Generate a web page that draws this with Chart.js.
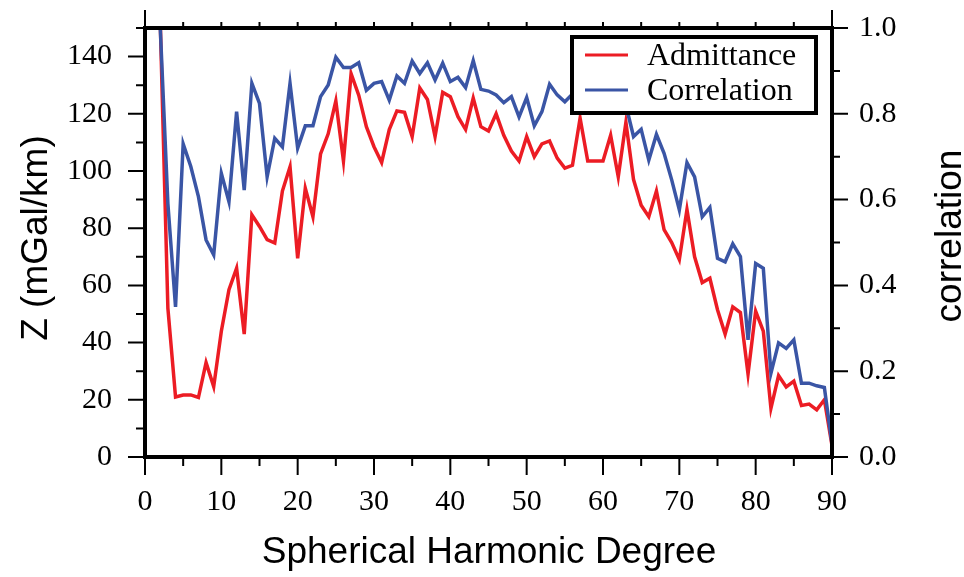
<!DOCTYPE html>
<html>
<head>
<meta charset="utf-8">
<title>Admittance and correlation</title>
<script src="https://cdn.jsdelivr.net/npm/chart.js@4.4.0/dist/chart.umd.min.js"></script>
<style>
  body { margin: 0; background: #fff; }
  #wrap { width: 964px; height: 577px; }
</style>
</head>
<body>
<div id="wrap"><canvas id="spectrumChart" width="964" height="577"></canvas></div>
<script>
// Spherical harmonic degree of each estimate
const degrees = [
  2, 3, 4, 5, 6, 7, 8, 9, 10, 11, 12, 13, 14, 15, 16, 17, 18, 19, 20,
  21, 22, 23, 24, 25, 26, 27, 28, 29, 30, 31, 32, 33, 34, 35, 36, 37, 38, 39, 40,
  41, 42, 43, 44, 45, 46, 47, 48, 49, 50, 51, 52, 53, 54, 55, 56, 57, 58, 59, 60,
  61, 62, 63, 64, 65, 66, 67, 68, 69, 70, 71, 72, 73, 74, 75, 76, 77, 78, 79, 80,
  81, 82, 83, 84, 85, 86, 87, 88, 89, 90
];

// Admittance Z (mGal/km)
const admittance = [
  152, 52, 21, 21.7, 21.7, 20.8, 33, 24.6, 44, 58.5, 66, 43, 84.7, 80.6, 76, 74.8, 93, 101.5, 69.5,
  94, 84, 106, 113, 124.5, 103.5, 134, 126.5, 115.5, 108.5, 103, 114.5, 121, 120.5, 112, 129, 125, 112, 127.5, 126,
  119, 114.5, 125.5, 115.5, 114, 120, 112.5, 107, 103.5, 112, 105, 109.5, 110.5, 104.5, 101, 102, 118.5, 103.5, 103.5, 103.5,
  112.5, 98, 117, 97, 88, 84, 93, 79.5, 75, 69, 86.5, 70, 61, 62.5, 51.5, 43, 52.5, 50.5, 29, 51,
  44, 17, 28.5, 24.5, 26.5, 18, 18.5, 16.5, 20, 4
];

// Correlation coefficient
const correlation = [
  1.0, 0.59, 0.35, 0.73, 0.677, 0.607, 0.506, 0.471, 0.661, 0.595, 0.805, 0.622, 0.871, 0.824, 0.653, 0.743, 0.723, 0.871, 0.72,
  0.772, 0.772, 0.84, 0.867, 0.932, 0.908, 0.908, 0.919, 0.855, 0.871, 0.875, 0.832, 0.888, 0.871, 0.923, 0.894, 0.919, 0.879, 0.918, 0.875,
  0.885, 0.861, 0.924, 0.857, 0.853, 0.844, 0.826, 0.84, 0.793, 0.838, 0.772, 0.805, 0.869, 0.844, 0.828, 0.846, 0.86, 0.87, 0.85, 0.87,
  0.86, 0.88, 0.82, 0.747, 0.764, 0.692, 0.752, 0.708, 0.646, 0.576, 0.686, 0.653, 0.56, 0.582, 0.463, 0.455, 0.497, 0.467, 0.273, 0.451,
  0.44, 0.195, 0.266, 0.253, 0.273, 0.172, 0.172, 0.166, 0.162, 0.03
];

// Labelled ticks
const degreeTicks = [0, 10, 20, 30, 40, 50, 60, 70, 80, 90];
const zTicks = [0, 20, 40, 60, 80, 100, 120, 140];
const corrTicks = [0, 0.2, 0.4, 0.6, 0.8, 1.0];

const RED = "#ec1c24";
const BLUE = "#3a55a5";
const SERIF = "'Liberation Serif', 'Times New Roman', serif";
const SANS = "'Liberation Sans', Arial, sans-serif";

// Frame, tick marks, axis titles and the boxed legend
const frameAndTicks = {
  id: "frameAndTicks",
  afterDraw(chart) {
    const ctx = chart.ctx;
    const a = chart.chartArea;
    const { x, y, y1 } = chart.scales;

    ctx.save();
    ctx.strokeStyle = "#000";
    ctx.lineWidth = 2;
    ctx.beginPath();
    x.ticks.forEach((t) => {
      const px = x.getPixelForValue(t.value);
      const len = degreeTicks.includes(t.value) ? 18 : 9;
      ctx.moveTo(px, a.bottom);
      ctx.lineTo(px, a.bottom + len);
      ctx.moveTo(px, a.top);
      ctx.lineTo(px, a.top - 6);
    });
    y.ticks.forEach((t) => {
      const py = y.getPixelForValue(t.value);
      const len = zTicks.includes(t.value) ? 17 : 9;
      ctx.moveTo(a.left, py);
      ctx.lineTo(a.left - len, py);
    });
    y1.ticks.forEach((t) => {
      const py = y1.getPixelForValue(t.value);
      const len = corrTicks.includes(t.value) ? 16 : 8;
      ctx.moveTo(a.right, py);
      ctx.lineTo(a.right + len, py);
    });
    // axis lines poking out above the frame
    ctx.moveTo(a.left, a.top);
    ctx.lineTo(a.left, a.top - 18);
    ctx.moveTo(a.right, a.top);
    ctx.lineTo(a.right, a.top - 18);
    ctx.stroke();

    // heavy frame
    ctx.lineWidth = 4;
    ctx.strokeRect(a.left, a.top, a.right - a.left, a.bottom - a.top);

    // axis titles
    ctx.fillStyle = "#000";
    ctx.font = "37px " + SANS;
    ctx.textAlign = "center";
    ctx.textBaseline = "alphabetic";
    ctx.fillText("Spherical Harmonic Degree", 489, 563);

    ctx.save();
    ctx.translate(47, 238);
    ctx.rotate(-Math.PI / 2);
    ctx.fillText("Z (mGal/km)", 0, 0);
    ctx.restore();

    ctx.save();
    ctx.translate(961, 236);
    ctx.rotate(-Math.PI / 2);
    ctx.fillText("correlation", 0, 0);
    ctx.restore();

    // legend box
    ctx.fillStyle = "#fff";
    ctx.fillRect(572, 37, 244, 76);
    ctx.lineWidth = 4;
    ctx.strokeRect(572, 37, 244, 76);

    ctx.font = "32px " + SERIF;
    ctx.textAlign = "left";
    ctx.textBaseline = "middle";
    chart.data.datasets.forEach((ds, i) => {
      const ly = 55 + i * 35;
      ctx.strokeStyle = ds.borderColor;
      ctx.lineWidth = 3;
      ctx.beginPath();
      ctx.moveTo(585, ly);
      ctx.lineTo(628, ly);
      ctx.stroke();
      ctx.fillStyle = "#000";
      ctx.fillText(ds.label, 647, ly + 2);
    });
    ctx.restore();
  },
};

// Keep vertical axes from pushing the plot area down
function noEndPadding(s) {
  s.paddingTop = 0;
  s.paddingBottom = 0;
}

function setupChart() {
  const ctx = document.getElementById("spectrumChart").getContext("2d");

  new Chart(ctx, {
    type: "line",
    data: {
      datasets: [
        {
          label: "Admittance",
          data: degrees.map((d, i) => ({ x: d, y: admittance[i] })),
          yAxisID: "y",
          borderColor: RED,
          borderWidth: 3.5,
          pointRadius: 0,
          tension: 0,
          order: 1,
        },
        {
          label: "Correlation",
          data: degrees.map((d, i) => ({ x: d, y: correlation[i] })),
          yAxisID: "y1",
          borderColor: BLUE,
          borderWidth: 3.5,
          pointRadius: 0,
          tension: 0,
          order: 0,
        },
      ],
    },
    options: {
      responsive: false,
      animation: false,
      layout: { padding: { top: 28 } },
      plugins: {
        legend: { display: false },
        tooltip: { enabled: false },
      },
      scales: {
        x: {
          type: "linear",
          min: 0,
          max: 90,
          grid: { display: false, drawTicks: false },
          border: { display: false },
          ticks: {
            stepSize: 5,
            autoSkip: false,
            maxRotation: 0,
            padding: 27,
            color: "#000",
            font: { family: SERIF, size: 30 },
            callback: (v) => (degreeTicks.includes(v) ? String(v) : ""),
          },
          afterFit: (s) => {
            s.height = 120;
          },
        },
        y: {
          position: "left",
          min: 0,
          max: 150,
          grid: { display: false, drawTicks: false },
          border: { display: false },
          ticks: {
            stepSize: 10,
            autoSkip: false,
            padding: 33,
            color: "#000",
            font: { family: SERIF, size: 30 },
            callback: (v) => (zTicks.includes(v) ? String(v) : ""),
          },
          afterFit: (s) => {
            s.width = 145;
            noEndPadding(s);
          },
        },
        y1: {
          position: "right",
          min: 0,
          max: 1,
          grid: { display: false, drawTicks: false },
          border: { display: false },
          ticks: {
            stepSize: 0.1,
            autoSkip: false,
            padding: 27,
            color: "#000",
            font: { family: SERIF, size: 30 },
            callback: (v) => (corrTicks.includes(v) ? v.toFixed(1) : ""),
          },
          afterFit: (s) => {
            s.width = 132;
            noEndPadding(s);
          },
        },
      },
    },
    plugins: [frameAndTicks],
  });
}

setupChart();
</script>
</body>
</html>
